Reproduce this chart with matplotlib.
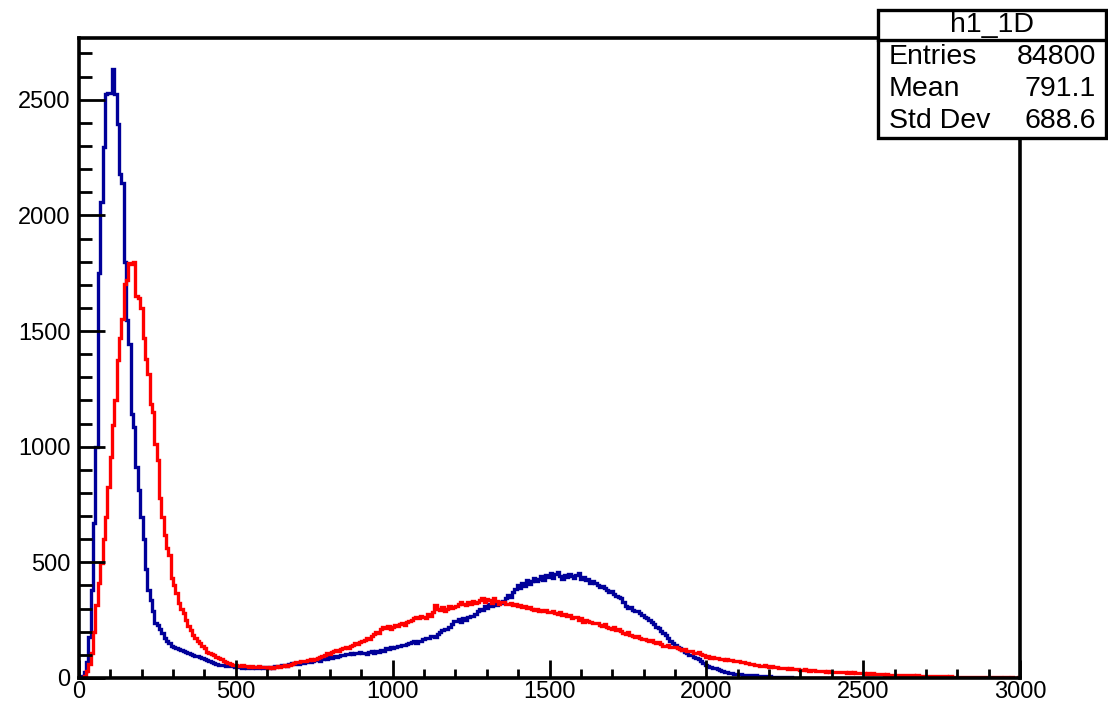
import numpy as np
import matplotlib
matplotlib.use("Agg")
import matplotlib.pyplot as plt
from matplotlib.patches import Rectangle
from matplotlib.lines import Line2D
from matplotlib.ticker import MultipleLocator

plt.rcParams['font.family'] = ['Liberation Sans', 'DejaVu Sans']

# histogram binning (400 bins between 0 and 3000)
n_bins = 400
x_min, x_max = 0, 3000

# blue histogram, counts per bin (rows of 20 bins = 150 units)
blue_counts = [
    2, 8, 25, 70, 178, 380, 668, 1000, 1749, 2057, 2294, 2525, 2530, 2530, 2632, 2525, 2395, 2180, 2140, 1798,
    1546, 1446, 1143, 1085, 912, 812, 696, 603, 473, 380, 337, 290, 237, 229, 212, 193, 171, 160, 150, 140,
    135, 128, 124, 120, 116, 112, 108, 104, 100, 97, 95, 92, 88, 84, 76, 72, 68, 66, 60, 58,
    55, 57, 52, 54, 50, 53, 49, 47, 50, 45, 48, 44, 46, 43, 47, 45, 42, 46, 44, 47,
    45, 48, 44, 50, 53, 51, 55, 58, 54, 60, 63, 61, 65, 62, 68, 66, 70, 72, 69, 75,
    76, 80, 75, 82, 86, 84, 90, 88, 93, 91, 96, 100, 98, 104, 102, 108, 105, 110, 106, 112,
    106, 110, 104, 112, 115, 110, 118, 113, 120, 116, 128, 125, 132, 130, 135, 140, 138, 144, 141, 146,
    150, 155, 160, 153, 158, 162, 170, 175, 172, 180, 183, 176, 190, 198, 206, 214, 210, 222, 232, 245,
    248, 255, 243, 258, 252, 262, 270, 266, 278, 290, 300, 296, 310, 304, 318, 312, 322, 316, 330, 325,
    335, 345, 358, 352, 370, 385, 402, 390, 410, 398, 425, 405, 420, 432, 418, 430, 440, 425, 445, 438,
    455, 432, 448, 460, 440, 428, 445, 436, 450, 442, 432, 447, 455, 430, 438, 425, 428, 412, 420, 410,
    402, 395, 398, 388, 380, 372, 375, 362, 355, 350, 345, 330, 310, 302, 305, 295, 288, 290, 280, 272,
    265, 258, 250, 244, 232, 222, 218, 205, 195, 186, 175, 160, 150, 142, 135, 128, 120, 114, 108, 100,
    98, 92, 85, 80, 72, 63, 56, 52, 48, 44, 42, 38, 34, 30, 27, 25, 22, 20, 18, 17,
    17, 16, 15, 14, 13, 12, 12, 11, 10, 10, 9, 8, 8, 7, 6, 6, 5, 5, 4, 4,
    3, 3, 3, 2, 2, 2, 1, 2, 1, 1, 1, 1, 0, 1, 0, 0, 0, 0, 0, 0,
    0, 0, 1, 0, 0, 0, 0, 0, 0, 0, 0, 0, 0, 0, 0, 0, 0, 0, 0, 0,
    0, 0, 0, 0, 0, 0, 0, 0, 0, 0, 0, 0, 0, 0, 0, 0, 0, 0, 0, 0,
    0, 0, 0, 0, 0, 0, 0, 0, 0, 0, 0, 0, 0, 0, 0, 0, 0, 0, 0, 0,
    0, 0, 0, 0, 0, 0, 0, 0, 0, 0, 0, 0, 0, 0, 0, 0, 0, 0, 0, 0,
]

# red histogram, counts per bin
red_counts = [
    0, 2, 8, 30, 60, 108, 200, 315, 410, 496, 600, 697, 826, 955, 1092, 1200, 1373, 1470, 1554, 1705,
    1720, 1795, 1790, 1798, 1650, 1645, 1600, 1470, 1380, 1315, 1186, 1150, 1013, 941, 777, 697, 617, 560, 531, 432,
    400, 367, 323, 300, 280, 251, 225, 208, 185, 172, 160, 150, 140, 128, 114, 107, 102, 99, 92, 85,
    80, 74, 70, 64, 60, 56, 58, 53, 52, 55, 50, 52, 48, 51, 49, 47, 50, 48, 46, 49,
    45, 47, 44, 48, 50, 47, 52, 55, 53, 58, 62, 66, 70, 68, 73, 75, 72, 78, 80, 77,
    84, 88, 92, 96, 100, 107, 104, 112, 118, 121, 116, 125, 130, 132, 128, 138, 142, 150, 146, 155,
    160, 165, 171, 168, 180, 190, 200, 196, 210, 222, 218, 225, 214, 220, 230, 226, 232, 236, 228, 240,
    245, 250, 258, 265, 260, 270, 262, 258, 275, 268, 285, 315, 300, 294, 305, 290, 298, 310, 302, 308,
    312, 318, 330, 322, 315, 328, 322, 335, 325, 330, 338, 344, 330, 340, 337, 325, 345, 332, 322, 330,
    328, 322, 318, 325, 315, 320, 310, 315, 305, 312, 301, 308, 298, 294, 300, 290, 296, 288, 292, 286,
    284, 290, 282, 278, 285, 272, 276, 268, 274, 258, 265, 262, 252, 258, 243, 250, 246, 240, 236, 238,
    236, 230, 226, 232, 222, 218, 214, 220, 207, 210, 202, 196, 190, 198, 186, 182, 176, 180, 172, 168,
    170, 164, 160, 166, 156, 150, 154, 146, 140, 138, 142, 134, 132, 136, 128, 126, 121, 124, 118, 115,
    118, 110, 107, 112, 104, 100, 92, 96, 88, 90, 85, 88, 82, 84, 78, 80, 76, 78, 72, 74,
    72, 68, 70, 64, 66, 60, 62, 58, 56, 54, 52, 55, 50, 49, 52, 47, 48, 45, 44, 42,
    44, 40, 42, 38, 37, 40, 36, 35, 38, 34, 32, 35, 33, 30, 32, 29, 31, 28, 30, 27,
    28, 26, 25, 27, 24, 26, 23, 25, 22, 24, 21, 23, 20, 22, 19, 21, 18, 20, 17, 19,
    17, 16, 15, 16, 14, 15, 13, 14, 13, 12, 13, 11, 12, 11, 12, 10, 11, 10, 9, 10,
    9, 10, 8, 9, 8, 7, 8, 7, 7, 6, 7, 6, 6, 5, 6, 5, 5, 6, 5, 4,
    5, 4, 4, 5, 4, 3, 4, 3, 3, 4, 3, 3, 2, 3, 3, 2, 3, 2, 2, 3,
]

stats_title = "h1_1D"
stats_names = ["Entries", "Mean", "Std Dev"]
stats_values = ["84800", "791.1", "688.6"]

edges = np.linspace(x_min, x_max, n_bins + 1)

W, H = 1108, 704
fig = plt.figure(figsize=(W / 100, H / 100), dpi=100)
ax = fig.add_axes([79 / W, 1 - 678 / H, (1020 - 79) / W, (678 - 38) / H])

ax.stairs(blue_counts, edges, baseline=None, color="#000099", linewidth=2.4)
ax.stairs(red_counts, edges, baseline=None, color="#ff0000", linewidth=2.4)

ax.set_xlim(x_min, x_max)
ax.set_ylim(0, 2767)

ax.xaxis.set_major_locator(MultipleLocator(500))
ax.xaxis.set_minor_locator(MultipleLocator(100))
ax.yaxis.set_major_locator(MultipleLocator(500))
ax.yaxis.set_minor_locator(MultipleLocator(100))
ax.tick_params(axis="x", which="major", direction="in", length=13, width=2, labelsize=17, pad=2)
ax.tick_params(axis="x", which="minor", direction="in", length=6.5, width=2)
ax.tick_params(axis="y", which="major", direction="in", length=19, width=2, labelsize=17, pad=6)
ax.tick_params(axis="y", which="minor", direction="in", length=9.5, width=2)
for s in ax.spines.values():
    s.set_linewidth(2.6)

# stats box
def fx(px):
    return px / W

def fy(py):
    return 1 - py / H

box = Rectangle((fx(878), fy(138)), fx(1106) - fx(878), fy(10) - fy(138),
                transform=fig.transFigure, facecolor="white", edgecolor="black",
                linewidth=2.4, zorder=5)
fig.add_artist(box)
fig.add_artist(Line2D([fx(878), fx(1106)], [fy(40), fy(40)], transform=fig.transFigure,
                      color="black", linewidth=2.4, zorder=6))
fig.text(fx(992), fy(25), stats_title, ha="center", va="center", fontsize=20.5, zorder=7)
for i, (name, val) in enumerate(zip(stats_names, stats_values)):
    y = 57 + i * 32
    fig.text(fx(889), fy(y), name, ha="left", va="center", fontsize=20.5, zorder=7)
    fig.text(fx(1096), fy(y), val, ha="right", va="center", fontsize=20.5, zorder=7)

fig.savefig("out.png", dpi=100)
